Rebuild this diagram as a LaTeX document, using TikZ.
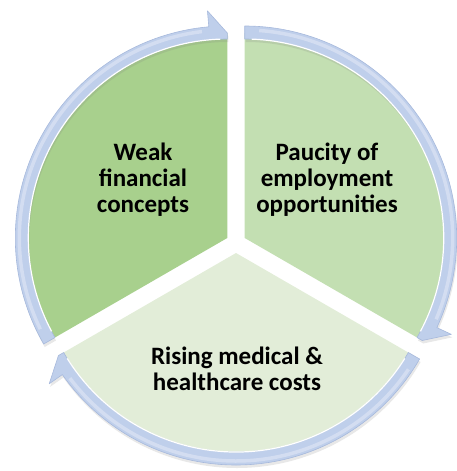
\documentclass[tikz,border=0pt]{standalone}
\usepackage{fontspec}
\setmainfont{Carlito}
\usetikzlibrary{shadows}
\definecolor{leftgreen}{HTML}{A8D08D}
\definecolor{rightgreen}{HTML}{C3DFB2}
\definecolor{lowgreen}{HTML}{E2EDD8}
\definecolor{bandblue}{HTML}{BFCFEB}
\definecolor{bandedge}{HTML}{A7B9DC}
\definecolor{bandlight}{HTML}{D3DDF1}
\begin{document}
\begin{tikzpicture}[x=1pt, y=1pt, band/.style={fill=bandblue, draw=bandedge, line width=0.6pt, line join=round, drop shadow={opacity=0.18, shadow xshift=1pt, shadow yshift=-3pt}}, shine/.style={draw=bandlight, line width=3.5pt}, rim/.style={draw=white, line width=1.2pt},cycle text/.style={font=\fontsize{25}{26}\selectfont\bfseries, align=center, text=black}]
\useasboundingbox (0,0) rectangle (457,-471);
\coordinate (c) at (236,-243);
\coordinate (pl) at (227.3,-238);
\coordinate (pr) at (244.7,-238);
\coordinate (pb) at (236,-253);
%sectors
\begin{scope}[shift={(pl)}]
\fill[leftgreen] (0,0) -- (90:205pt) arc[start angle=90, end angle=210, radius=205pt] -- cycle;
\draw[band] (210:199pt) -- (210:212pt) arc[start angle=210, end angle=95, radius=212pt] -- (95:228pt) -- (90:205pt) -- (90:199pt) arc[start angle=90, end angle=210, radius=199pt] -- cycle;
\draw[shine] (206:208pt) arc[start angle=206, end angle=97, radius=208pt];
\draw[rim] (92:199pt) arc[start angle=92, end angle=208, radius=199pt];
\end{scope}
\begin{scope}[shift={(pr)}]
\fill[rightgreen] (0,0) -- (-30:205pt) arc[start angle=-30, end angle=90, radius=205pt] -- cycle;
\draw[band] (90:199pt) -- (90:212pt) arc[start angle=90, end angle=-25, radius=212pt] -- (-25:228pt) -- (-30:205pt) -- (-30:199pt) arc[start angle=-30, end angle=90, radius=199pt] -- cycle;
\draw[shine] (86:208pt) arc[start angle=86, end angle=-23, radius=208pt];
\draw[rim] (-28:199pt) arc[start angle=-28, end angle=88, radius=199pt];
\end{scope}
\begin{scope}[shift={(pb)}]
\fill[lowgreen] (0,0) -- (210:205pt) arc[start angle=210, end angle=330, radius=205pt] -- cycle;
\draw[band] (330:199pt) -- (330:212pt) arc[start angle=330, end angle=215, radius=212pt] -- (215:228pt) -- (210:205pt) -- (210:199pt) arc[start angle=210, end angle=330, radius=199pt] -- cycle;
\draw[shine] (326:208pt) arc[start angle=326, end angle=217, radius=208pt];
\draw[rim] (212:199pt) arc[start angle=212, end angle=328, radius=199pt];
\end{scope}
%labels
\node[cycle text] (weak) at (143,-180) {Weak\\financial\\concepts};
\node[cycle text] (paucity) at (327,-180) {Paucity of\\employment\\opportunities};
\node[cycle text] (rising) at (237,-369) {Rising medical \&\\healthcare costs};
\end{tikzpicture}
\end{document}
